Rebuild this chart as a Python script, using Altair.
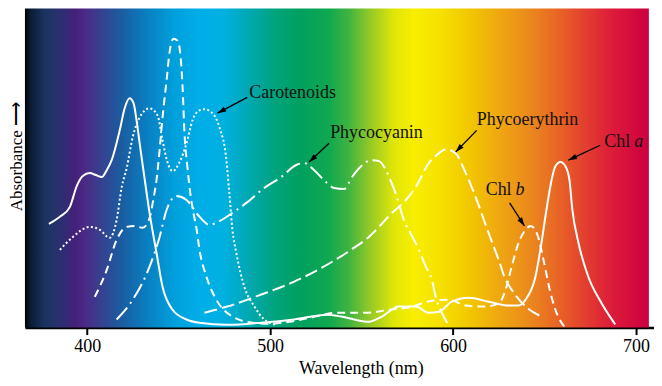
import altair as alt
import pandas as pd

# ---------------- data ----------------
chl_a_wl = [379.1, 385.1, 390.5, 394.3, 397.6, 401.4, 404.7, 408.0, 410.7, 413.4, 417.8, 420.5,
            423.2, 425.4, 427.0, 429.2, 430.9, 434.1, 437.9, 441.2, 446.7, 454.3, 461.4, 476.6,
            495.2, 513.2, 531.1, 538.8, 545.9, 554.0, 561.1, 570.4, 579.6, 586.7, 592.2, 599.3,
            608.5, 619.4, 630.3, 635.8, 639.6, 645.0, 648.3, 651.0, 653.8, 655.9, 658.7, 661.4,
            663.6, 665.2, 668.5, 673.9, 681.0, 688.6]
chl_a_abs = [32.0, 34.2, 37.2, 43.7, 46.8, 47.7, 47.1, 46.5, 48.6, 51.7, 60.9, 67.7,
             70.8, 69.2, 64.0, 54.8, 48.0, 35.4, 23.1, 12.6, 5.5, 2.5, 1.5, 0.9,
             1.5, 2.5, 4.0, 3.4, 2.5, 1.8, 3.4, 6.5, 6.5, 4.6, 4.9, 8.0,
             9.2, 8.0, 6.8, 6.8, 8.6, 15.7, 26.2, 36.3, 45.5, 49.8, 51.1, 49.8,
             45.5, 36.3, 26.2, 15.7, 7.7, 1.0]

chl_b_wl = [404.2, 410.7, 416.1, 421.6, 426.0, 430.3, 434.1, 436.3, 437.9, 439.6, 441.2, 443.4,
            445.0, 447.2, 449.4, 451.0, 452.1, 453.2, 454.8, 456.5, 458.1, 459.7, 461.4, 465.2,
            470.6, 479.4, 490.3, 499.5, 510.4, 522.4, 536.6, 554.0, 564.9, 575.8, 588.4, 597.6,
            606.9, 616.7, 624.9, 628.7, 632.0, 635.8, 639.6, 642.3, 646.1, 649.4, 652.7, 655.9,
            660.8]
chl_b_abs = [9.5, 17.8, 27.1, 31.1, 31.4, 30.8, 33.8, 40.0, 45.5, 54.8, 64.9, 76.3,
             84.9, 89.2, 88.6, 84.0, 74.8, 60.0, 49.5, 40.9, 35.4, 30.8, 24.0, 15.7,
             8.6, 3.4, 1.5, 1.2, 1.8, 3.1, 4.6, 4.6, 5.5, 6.2, 8.3, 8.6,
             6.8, 6.5, 7.4, 11.7, 18.8, 26.2, 30.2, 31.4, 28.6, 20.9, 12.0, 5.5,
             0.3]

carot_wl = [385.1, 392.2, 401.4, 406.9, 412.3, 416.1, 418.9, 421.6, 424.9, 428.7, 434.1, 438.5,
            441.2, 443.9, 446.7, 450.5, 454.3, 457.6, 461.4, 464.1, 467.9, 472.3, 476.1, 477.7,
            479.4, 481.5, 485.9, 491.4, 496.8, 503.3]
carot_abs = [24.0, 28.0, 31.1, 30.2, 27.7, 33.2, 43.4, 49.2, 58.8, 64.9, 67.7, 65.5,
             57.8, 51.1, 48.3, 51.1, 56.9, 64.0, 67.1, 67.4, 66.5, 61.8, 51.7, 41.5,
             30.2, 23.1, 12.6, 6.5, 2.5, 0.9]

phycocyanin_wl = [416.1, 424.9, 434.1, 439.6, 443.4, 448.8, 454.3, 461.4, 466.8, 472.3, 479.4, 487.0,
                  496.8, 506.1, 514.2, 518.6, 524.1, 529.5, 535.0, 540.4, 544.8, 549.7, 555.1, 559.5,
                  563.3, 566.0, 569.3, 573.1, 577.5, 581.3, 585.1, 588.4, 590.5, 593.8, 597.6]
phycocyanin_abs = [2.5, 8.6, 18.8, 28.0, 36.3, 40.6, 39.4, 34.2, 31.7, 32.9, 35.4, 38.5,
                   43.1, 46.5, 50.2, 50.8, 48.6, 45.5, 43.1, 42.8, 46.5, 49.8, 51.7, 51.4,
                   48.6, 45.2, 40.3, 33.2, 28.3, 24.0, 18.8, 14.8, 9.5, 4.6, 0.6]

phycoery_wl = [464.1, 476.6, 495.2, 513.2, 531.1, 544.2, 554.0, 566.6, 574.2, 579.6, 586.7, 592.2,
               596.0, 601.4, 606.9, 612.3, 619.4, 624.9, 628.7, 632.0, 639.6, 648.3]
phycoery_abs = [4.6, 6.5, 10.2, 14.2, 19.4, 24.0, 28.0, 35.4, 39.4, 43.4, 50.8, 53.8,
                55.1, 53.8, 47.7, 40.3, 29.2, 20.9, 14.8, 11.7, 6.5, 3.4]

pigments = ["Chl a", "Chl b", "Carotenoids", "Phycocyanin", "Phycoerythrin"]

# spectrum background colour stops (wavelength, colour)
spectrum_wl = [366, 368.7, 376.9, 385.1, 393.2, 398.7, 406.9, 417.8, 431.4, 447.7, 461.4, 475.0,
               488.6, 502.2, 515.9, 532.2, 543.1, 554.0, 567.6, 578.5, 592.2, 608.5, 624.9, 641.2,
               657.6, 673.9, 687.5, 707]
spectrum_color = ["#000000", "#0a1a30", "#1a3560", "#2a3070", "#45207a", "#4a2a85", "#383f8f",
                  "#1c5a9e", "#0a7cbf", "#00a0dc", "#00aee8", "#00b0e0", "#00a8b0", "#00a37e",
                  "#00a060", "#10a850", "#40b440", "#90c828", "#e0e608", "#f8ee00", "#f6e200",
                  "#f2c800", "#efa810", "#eb8a1c", "#e86426", "#e23a30", "#dc1a3a", "#cc0040"]

# annotation labels
label_text = ["Carotenoids", "Phycocyanin", "Phycoerythrin", "Chl", "a", "Chl", "b"]
label_wl = [488.6, 532.8, 612.9, 682.6, 699.0, 617.8, 634.1]
label_abs = [72.3, 60.0, 64.0, 57.2, 57.2, 42.5, 42.5]
label_style = ["normal", "normal", "normal", "normal", "italic", "normal", "italic"]

# annotation arrows
arrow_from_wl = [487.5, 532.2, 612.9, 680.4, 630.9]
arrow_from_abs = [71.1, 56.9, 60.9, 56.3, 38.5]
arrow_to_wl = [471.2, 521.3, 601.4, 663.0, 639.0]
arrow_to_abs = [66.2, 51.1, 54.2, 51.7, 31.4]
arrow_angle = [242, 226.5, 223.7, 244.9, 146.9]

x_ticks = [400, 500, 600, 700]

# ---------------- chart ----------------
XMIN, XMAX = 366, 709.8
YMAX = 98.5
FONT = "Liberation Serif"

x_scale = alt.Scale(domain=[XMIN, XMAX], nice=False, zero=False)
y_scale = alt.Scale(domain=[0, YMAX], nice=False, zero=False)

x_axis = alt.Axis(values=x_ticks, title="Wavelength (nm)", grid=False,
                  domainColor="black", domainWidth=2.5, tickColor="black", tickWidth=2,
                  tickSize=7, labelFont=FONT, labelFontSize=18, labelColor="black",
                  labelPadding=3, labelFlush=False, titleFont=FONT, titleFontSize=18,
                  titleFontWeight="normal", titleColor="black", titleX=337, titleY=46,
                  titleBaseline="alphabetic", titleAlign="center")
y_axis = alt.Axis(title="Absorbance ⟶", labels=False, ticks=False, domain=False, grid=False,
                  titleFont=FONT, titleFontSize=17, titleFontWeight="normal",
                  titleColor="black", titleAngle=270, titleX=-8, titleY=148,
                  titleAlign="center", titleBaseline="middle")

span = spectrum_wl[-1] - spectrum_wl[0]
stops = [alt.GradientStop(offset=(w - spectrum_wl[0]) / span, color=c)
         for w, c in zip(spectrum_wl, spectrum_color)]
band = pd.DataFrame({"start": [spectrum_wl[0]], "end": [spectrum_wl[-1]],
                     "lo": [0.0], "hi": [YMAX]})

bg = alt.Chart(band).mark_rect(
    fill=alt.Gradient(gradient="linear", stops=stops, x1=0, x2=1, y1=0, y2=0)
).encode(
    x=alt.X("start:Q", scale=x_scale, axis=x_axis),
    x2="end:Q",
    y=alt.Y("lo:Q", scale=y_scale, axis=y_axis),
    y2="hi:Q",
)

series = {
    "Chl a": (chl_a_wl, chl_a_abs),
    "Chl b": (chl_b_wl, chl_b_abs),
    "Carotenoids": (carot_wl, carot_abs),
    "Phycocyanin": (phycocyanin_wl, phycocyanin_abs),
    "Phycoerythrin": (phycoery_wl, phycoery_abs),
}
rows = []
for name in pigments:
    wl, ab = series[name]
    for w, a in zip(wl, ab):
        rows.append({"pigment": name, "wl": w, "abs": a})
curves = pd.DataFrame(rows)

dashes = {
    "Chl a": None,
    "Chl b": [8, 5],
    "Carotenoids": [2, 2.4],
    "Phycocyanin": [16, 5, 2, 5],
    "Phycoerythrin": [13, 5],
}

layers = [bg]
for name in pigments:
    kw = dict(color="white", strokeWidth=2, interpolate="monotone")
    if dashes[name] is not None:
        kw["strokeDash"] = dashes[name]
    layers.append(
        alt.Chart(curves).transform_filter(alt.datum.pigment == name).mark_line(**kw).encode(
            x=alt.X("wl:Q", scale=x_scale, axis=x_axis),
            y=alt.Y("abs:Q", scale=y_scale, axis=y_axis),
        )
    )

arrows = pd.DataFrame({"fw": arrow_from_wl, "fa": arrow_from_abs,
                       "tw": arrow_to_wl, "ta": arrow_to_abs, "angle": arrow_angle})
layers.append(
    alt.Chart(arrows).mark_rule(color="black", strokeWidth=1.3).encode(
        x=alt.X("fw:Q", scale=x_scale, axis=x_axis),
        y=alt.Y("fa:Q", scale=y_scale, axis=y_axis),
        x2="tw:Q", y2="ta:Q",
    )
)
layers.append(
    alt.Chart(arrows).mark_point(shape="M0,0L-0.32,1L0.32,1Z", filled=True, color="black",
                                 opacity=1, size=300, strokeWidth=0).encode(
        x=alt.X("tw:Q", scale=x_scale, axis=x_axis),
        y=alt.Y("ta:Q", scale=y_scale, axis=y_axis),
        angle=alt.Angle("angle:Q", scale=None),
    )
)

labels = pd.DataFrame({"text": label_text, "wl": label_wl, "abs": label_abs,
                       "style": label_style})
for style in ["normal", "italic"]:
    layers.append(
        alt.Chart(labels).transform_filter(alt.datum.style == style).mark_text(
            font=FONT, fontSize=18, fontStyle=style, color="#111111",
            align="left", baseline="middle",
        ).encode(
            x=alt.X("wl:Q", scale=x_scale, axis=x_axis),
            y=alt.Y("abs:Q", scale=y_scale, axis=y_axis),
            text="text:N",
        )
    )

chart = alt.layer(*layers).properties(
    width=631,
    height=320,
    autosize=alt.AutoSizeParams(type="none"),
    padding={"left": 17, "top": 0, "right": 0, "bottom": 50},
    background="white",
).configure_view(stroke=None)

chart.save("out.html", embed_options={"renderer": "svg", "actions": False})
